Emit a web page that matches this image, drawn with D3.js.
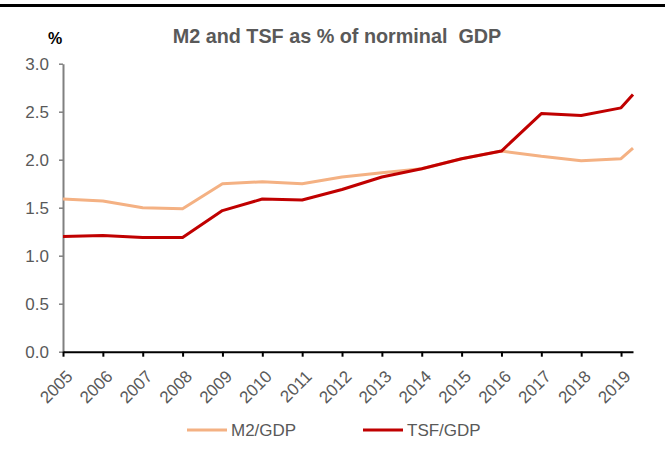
<!DOCTYPE html>
<html>
<head>
<meta charset="utf-8">
<script src="https://cdnjs.cloudflare.com/ajax/libs/d3/7.8.5/d3.min.js"></script>
<style>
  html,body{margin:0;padding:0;background:#fff;}
  svg{display:block;font-family:"Liberation Sans",Arial,sans-serif;}
</style>
</head>
<body>
<div id="chart"></div>
<script>
// ---- data ----
const yearTicks=[2005,2006,2007,2008,2009,2010,2011,2012,2013,2014,2015,2016,2017,2018,2019];
const periods=[2005,2006,2007,2008,2009,2010,2011,2012,2013,2014,2015,2016,2017,2018,2019,2019.3];
const m2Gdp=[1.59,1.57,1.50,1.49,1.75,1.77,1.75,1.82,1.865,1.905,2.01,2.09,2.035,1.99,2.01,2.12];
const tsfGdp=[1.20,1.21,1.19,1.19,1.47,1.59,1.58,1.69,1.82,1.905,2.01,2.09,2.48,2.46,2.54,2.68];
const yTicks=[0,0.5,1.0,1.5,2.0,2.5,3.0];
const seriesNames=['M2/GDP','TSF/GDP'];
const seriesColors=['#F4B183','#C00000'];

(function(){
'use strict';
const W=665,H=461;
const svg=d3.select('#chart').append('svg').attr('width',W).attr('height',H);

// top rule
svg.append('rect').attr('x',0).attr('y',4).attr('width',W).attr('height',3).attr('fill','#000');

const x=d3.scaleLinear().domain([d3.min(periods),d3.max(periods)]).range([63,633]);
const y=d3.scaleLinear().domain([0,3]).range([351.7,63.7]);

// Title
svg.append('text').attr('x',337).attr('y',43).attr('text-anchor','middle')
  .attr('fill','#595959').style('font-size','19.8px').style('font-weight','bold')
  .style('white-space','pre').text('M2 and TSF as % of norminal  GDP');
svg.append('text').attr('x',55).attr('y',44).attr('text-anchor','middle')
  .attr('fill','#000').style('font-size','16px').style('font-weight','bold').text('%');

// Y axis
const ya=svg.append('g').attr('transform','translate(63,0)')
  .call(d3.axisLeft(y).tickValues(yTicks).tickFormat(d3.format('.1f')).tickSize(4).tickSizeOuter(0).tickPadding(10));
ya.select('.domain').attr('stroke','#808080').attr('stroke-width',2);
ya.selectAll('.tick line').attr('stroke','#808080').attr('stroke-width',1.5);
ya.selectAll('.tick text').attr('fill','#595959').style('font-size','17px').attr('dy','0.36em');

// lines
const line=d3.line().x((d,i)=>x(periods[i])).y(d=>y(d));
[m2Gdp,tsfGdp].forEach((s,k)=>{
  svg.append('path').datum(s).attr('d',line)
    .attr('fill','none').attr('stroke',seriesColors[k]).attr('stroke-width',3)
    .attr('stroke-linejoin','round');
});

// X axis
const xa=svg.append('g').attr('transform','translate(0,351.7)')
  .call(d3.axisBottom(x).tickValues(yearTicks).tickFormat(d3.format('d')).tickSize(5).tickSizeOuter(0));
xa.select('.domain').attr('stroke','#000').attr('stroke-width',2);
xa.selectAll('.tick line').attr('stroke','#000').attr('stroke-width',2);
xa.selectAll('.tick text').attr('fill','#595959').style('font-size','17px')
  .attr('text-anchor','end').attr('y',0).attr('dy','0.35em')
  .attr('transform','translate(6,21.7) rotate(-45)');

// Legend
const leg=[{x:187,tx:231},{x:363,tx:407}];
seriesNames.forEach((n,k)=>{
  svg.append('line').attr('x1',leg[k].x).attr('x2',leg[k].x+40).attr('y1',430).attr('y2',430)
    .attr('stroke',seriesColors[k]).attr('stroke-width',3);
  svg.append('text').attr('x',leg[k].tx).attr('y',436).attr('fill','#595959')
    .style('font-size','17px').text(n);
});
})();
</script>
</body>
</html>
